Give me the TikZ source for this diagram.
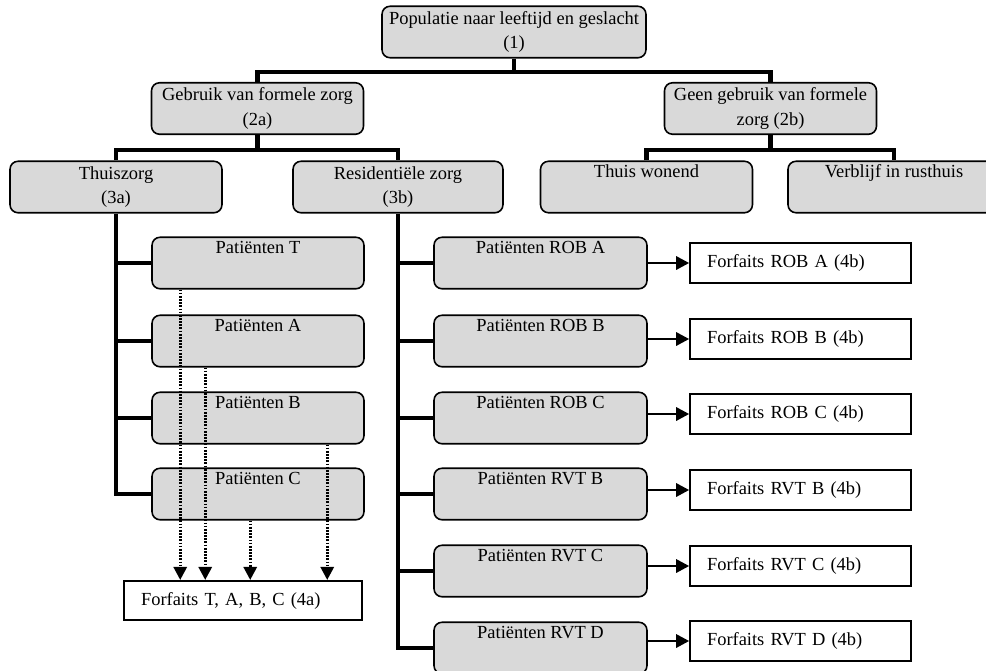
\documentclass[tikz,border=0pt]{standalone}
\usepackage{fontspec}
\setmainfont{Liberation Serif}
\usetikzlibrary{calc}
\usetikzlibrary{arrows.meta}
\definecolor{boxgray}{RGB}{217,217,217}

\begin{document}
\begin{tikzpicture}[x=0.02cm, y=-0.02cm, > = {Triangle[length=0.26cm, width=0.26cm]},
	font=\fontsize{10.5}{14}\selectfont,
	gbox/.style={draw, line width=0.9pt, rounded corners=0.16cm, fill=boxgray, align=center, minimum width=4.24cm, minimum height=1.03cm, inner sep=1pt},
	fbox/.style={draw, line width=0.9pt, fill=white, text width=3.74cm, align=left, inner xsep=0.34cm, minimum height=0.79cm},
	tree/.style={line width=2.3pt},
	harr/.style={->, line width=1.6pt},
	darr/.style={->, line width=1.6pt, dash pattern=on 1pt off 0.8pt}]
	\clip (0,0) rectangle (986,670); % page

	% levels 1 to 3
	\node[gbox, minimum width=5.28cm] (pop) at (514,32) {Populatie naar leeftijd en geslacht\\(1)};
	\node[gbox] (g2a) at (257.5,108.5) {Gebruik van formele zorg\\(2a)};
	\node[gbox] (g2b) at (770.5,108.5) {Geen gebruik van formele\\zorg (2b)};
	\node[gbox] (thuis) at (116,187) {Thuiszorg\\(3a)};
	\node[gbox, minimum width=4.2cm] (resid) at (398,187) {Residenti\"ele zorg\\(3b)};
	\node[gbox] (wonend) at (646.5,187) {Thuis wonend\\\strut};
	\node[gbox] (verblijf) at (894,187) {Verblijf in rusthuis\\\strut};

	% thuiszorg
	\node[gbox] (pT) at (258,263) {Pati\"enten T\\\strut};
	\node[gbox] (pA) at (258,341) {Pati\"enten A\\\strut};
	\node[gbox] (pB) at (258,418) {Pati\"enten B\\\strut};
	\node[gbox] (pC) at (258,494) {Pati\"enten C\\\strut};
	\node[fbox, text width=4.08cm] (fa) at (243,600.5) {Forfaits T, A, B, C (4a)};

	% residentiele zorg
	\node[gbox, minimum width=4.26cm] (rA) at (540.5,263) {Pati\"enten ROB A\\\strut};
	\node[gbox, minimum width=4.26cm] (rB) at (540.5,341) {Pati\"enten ROB B\\\strut};
	\node[gbox, minimum width=4.26cm] (rC) at (540.5,418) {Pati\"enten ROB C\\\strut};
	\node[gbox, minimum width=4.26cm] (vB) at (540.5,494) {Pati\"enten RVT B\\\strut};
	\node[gbox, minimum width=4.26cm] (vC) at (540.5,571) {Pati\"enten RVT C\\\strut};
	\node[gbox, minimum width=4.26cm] (vD) at (540.5,648) {Pati\"enten RVT D\\\strut};

	\node[fbox] (frA) at (800.5,263) {Forfaits ROB A (4b)};
	\node[fbox] (frB) at (800.5,339) {Forfaits ROB B (4b)};
	\node[fbox] (frC) at (800.5,414) {Forfaits ROB C (4b)};
	\node[fbox] (fvB) at (800.5,490) {Forfaits RVT B (4b)};
	\node[fbox] (fvC) at (800.5,566) {Forfaits RVT C (4b)};
	\node[fbox] (fvD) at (800.5,641) {Forfaits RVT D (4b)};

	% tree lines
	\draw[tree] (pop.south) -- ++(0,13) coordinate (j1);
	\draw[tree] (g2a.north) |- (j1) -| (g2b.north);
	\draw[tree] (g2a.south) -- ++(0,15) coordinate (j2);
	\draw[tree] (thuis.north) |- (j2) -| (resid.north);
	\draw[tree] (g2b.south) -- ++(0,15) coordinate (j3);
	\draw[tree] (wonend.north) |- (j3) -| (verblijf.north);

	\draw[tree] (thuis.south) |- (pC.west);
	\draw[tree] (thuis.south |- pT.west) -- (pT.west);
	\draw[tree] (thuis.south |- pA.west) -- (pA.west);
	\draw[tree] (thuis.south |- pB.west) -- (pB.west);

	\draw[tree] (resid.south) |- (vD.west);
	\draw[tree] (resid.south |- rA.west) -- (rA.west);
	\draw[tree] (resid.south |- rB.west) -- (rB.west);
	\draw[tree] (resid.south |- rC.west) -- (rC.west);
	\draw[tree] (resid.south |- vB.west) -- (vB.west);
	\draw[tree] (resid.south |- vC.west) -- (vC.west);

	% forfaits
	\draw[harr] (rA.east |- frA.west) -- (frA.west);
	\draw[harr] (rB.east |- frB.west) -- (frB.west);
	\draw[harr] (rC.east |- frC.west) -- (frC.west);
	\draw[harr] (vB.east |- fvB.west) -- (fvB.west);
	\draw[harr] (vC.east |- fvC.west) -- (fvC.west);
	\draw[harr] (vD.east |- fvD.west) -- (fvD.west);

	\draw[darr] ($(pT.south west)+(29,0)$) coordinate (d1) -- (d1 |- fa.north);
	\draw[darr] ($(pA.south west)+(54,0)$) coordinate (d2) -- (d2 |- fa.north);
	\draw[darr] ($(pC.south west)+(99,0)$) coordinate (d3) -- (d3 |- fa.north);
	\draw[darr] ($(pB.south west)+(176,0)$) coordinate (d4) -- (d4 |- fa.north);
\end{tikzpicture}
\end{document}
